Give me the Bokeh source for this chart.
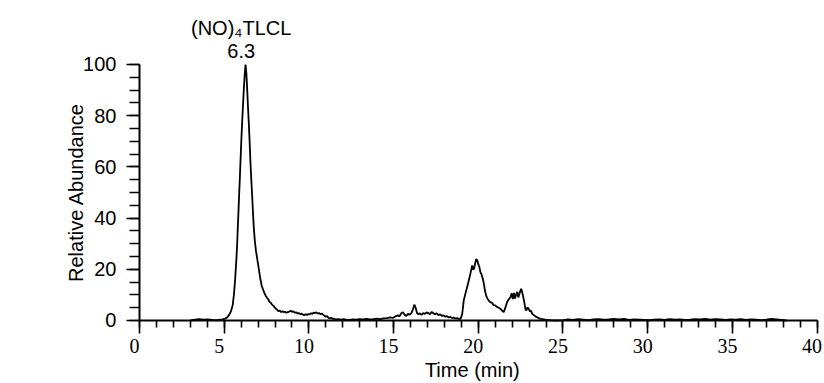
from bokeh.plotting import figure
from bokeh.models import (SingleIntervalTicker, Range1d, Label, LabelSet,
                          ColumnDataSource, CustomJSTickFormatter)
from bokeh.embed import file_html
from bokeh.resources import INLINE

# ---------------- data ----------------
time_min = [
    3.0, 3.2, 3.5, 3.8, 4.0, 4.3, 4.6, 4.9, 5.0, 5.1, 5.2, 5.3, 5.4, 5.5, 5.57,
    5.64, 5.71, 5.76, 5.80, 5.84, 5.88, 5.92, 5.96, 6.01, 6.06, 6.11, 6.16, 6.21,
    6.26, 6.31, 6.36, 6.40, 6.45, 6.50, 6.55, 6.60, 6.65, 6.70, 6.75, 6.81, 6.88,
    6.94, 7.00, 7.07, 7.14, 7.22, 7.30, 7.37, 7.44, 7.52, 7.60, 7.68, 7.75, 7.82,
    7.90, 7.98, 8.05, 8.13, 8.20, 8.28, 8.36, 8.44, 8.52, 8.60, 8.68, 8.76, 8.84,
    8.92, 9.00, 9.08, 9.16, 9.24, 9.32, 9.40, 9.48, 9.56, 9.64, 9.72, 9.80, 9.88,
    9.96, 10.04, 10.12, 10.20, 10.28, 10.36, 10.44, 10.52, 10.60, 10.68, 10.76,
    10.84, 10.92, 11.00, 11.08, 11.16, 11.24, 11.32, 11.40, 11.50, 11.60, 11.75,
    11.90, 12.05, 12.20, 12.40, 12.60, 12.80, 13.00, 13.20, 13.40, 13.60, 13.80,
    14.00, 14.20, 14.40, 14.60, 14.80, 14.95, 15.10, 15.25, 15.35, 15.45, 15.55,
    15.65, 15.75, 15.85, 15.95, 16.05, 16.15, 16.22, 16.30, 16.38, 16.46, 16.55,
    16.65, 16.75, 16.85, 16.95, 17.05, 17.15, 17.25, 17.35, 17.45, 17.55, 17.65,
    17.75, 17.85, 17.95, 18.05, 18.15, 18.25, 18.35, 18.45, 18.55, 18.65, 18.75,
    18.85, 18.95, 19.05, 19.14, 19.24, 19.34, 19.44, 19.54, 19.64, 19.70, 19.76,
    19.82, 19.88, 19.94, 20.00, 20.06, 20.12, 20.19, 20.26, 20.33, 20.40, 20.46,
    20.54, 20.62, 20.70, 20.80, 20.90, 21.00, 21.10, 21.20, 21.30, 21.40, 21.50,
    21.60, 21.70, 21.80, 21.90, 21.97, 22.04, 22.10, 22.16, 22.23, 22.30, 22.36,
    22.42, 22.48, 22.53, 22.60, 22.66, 22.72, 22.78, 22.84, 22.90, 22.98, 23.06,
    23.12, 23.18, 23.26, 23.34, 23.42, 23.50, 23.60, 23.70, 23.80, 23.95, 24.10,
    24.30, 24.60, 25.00, 25.30, 25.60, 25.90, 26.20, 26.50, 26.80, 27.10, 27.40,
    27.70, 28.00, 28.30, 28.60, 28.90, 29.20, 29.50, 29.80, 30.10, 30.40, 30.70,
    31.00, 31.30, 31.60, 31.90, 32.20, 32.50, 32.80, 33.10, 33.40, 33.70, 34.00,
    34.30, 34.60, 34.90, 35.20, 35.50, 35.80, 36.10, 36.40, 36.70, 37.00, 37.30,
    37.60, 37.90, 38.20,
]
rel_abundance = [
    0.0, 0.2, 0.5, 0.3, 0.4, 0.2, 0.1, 0.4, 0.6, 0.9, 1.4, 2.3, 3.6, 6.0, 9.8,
    15.5, 22.8, 29.0, 35.8, 42.0, 48.8, 55.0, 61.8, 70.0, 77.5, 84.0, 90.5, 96.0,
    100.0, 96.5, 90.0, 84.0, 77.5, 70.0, 61.8, 55.0, 48.8, 42.0, 36.0, 31.0, 27.0,
    24.5, 22.0, 19.0, 16.0, 13.5, 12.0, 10.8, 9.8, 9.0, 8.3, 7.2, 7.0, 6.2,
    5.8, 5.1, 4.6, 4.2, 3.6, 3.9, 3.3, 3.6, 3.2, 3.5, 3.0, 3.3, 3.5,
    3.8, 3.4, 3.6, 3.1, 3.2, 2.8, 2.9, 2.5, 2.7, 2.3, 2.1, 2.4, 2.2,
    2.5, 2.4, 2.8, 2.6, 3.1, 2.9, 3.2, 2.7, 2.9, 2.5, 2.7,
    2.3, 1.8, 1.5, 1.7, 1.0, 0.8, 1.1, 0.6, 0.7, 0.4, 0.5,
    0.3, 0.5, 0.3, 0.2, 0.4, 0.3, 0.5, 0.4, 0.6, 0.4, 0.5,
    0.7, 0.5, 0.8, 0.9, 1.2, 1.0, 1.6, 2.0, 1.6, 2.8, 3.2,
    2.2, 1.8, 2.6, 2.3, 2.9, 4.5, 6.2, 5.0, 3.0, 2.4, 2.8,
    2.2, 2.9, 2.6, 3.2, 2.9, 2.4, 3.4, 2.8, 2.5, 2.8, 2.1,
    2.4, 1.8, 2.0, 1.5, 1.7, 1.2, 1.4, 1.0, 1.1, 0.8, 0.9,
    0.6, 0.6, 2.5, 7.8, 10.5, 13.0, 15.6, 18.5, 21.5, 19.8, 20.5,
    22.5, 24.0, 23.5, 22.0, 21.0, 19.0, 18.0, 16.5, 14.3, 11.5, 9.8,
    8.5, 7.8, 7.2, 7.0, 6.0, 5.9, 5.3, 5.0, 4.6, 3.9, 3.3,
    5.0, 7.2, 8.3, 9.1, 10.6, 8.4, 10.8, 8.6, 10.0, 11.2, 9.0,
    10.2, 11.5, 12.4, 10.8, 9.0, 7.0, 4.5, 3.9, 5.2, 4.5, 3.5,
    3.8, 2.6, 2.2, 1.8, 1.4, 1.2, 0.8, 0.6, 0.5, 0.3, 0.2,
    0.1, 0.0, 0.1, 0.4, 0.2, 0.5, 0.3, 0.1, 0.4, 0.5, 0.3,
    0.4, 0.6, 0.4, 0.6, 0.2, 0.4, 0.3, 0.2, 0.1, 0.3, 0.4,
    0.2, 0.5, 0.3, 0.4, 0.2, 0.3, 0.5, 0.4, 0.6, 0.3, 0.5,
    0.4, 0.2, 0.4, 0.3, 0.5, 0.2, 0.4, 0.3, 0.1, 0.3, 0.6,
    0.4, 0.2, 0.0,
]
x_tick_values = [0, 5, 10, 15, 20, 25, 30, 35, 40]
x_tick_labels = ["0", "5", "10", "15", "20", "25", "30", "35", "40"]
peak_time = 6.3
peak_name = "(NO)\u2084TLCL"
peak_time_label = "6.3"
x_title = "Time (min)"
y_title = "Relative Abundance"

FONT = "Liberation Sans"
FS = "20px"

# The frame fills the whole canvas; both axes sit at data 0 (fixed_location)
# and are bounded to the data extent, so labels outside the axes stay visible.
p = figure(width=824, height=383, output_backend="svg", toolbar_location=None,
           x_range=Range1d(-8.205, 40.437), y_range=Range1d(-24.61, 125.0),
           min_border_left=0, min_border_right=0,
           min_border_top=0, min_border_bottom=0)
p.outline_line_color = None
p.xgrid.visible = False
p.ygrid.visible = False
p.background_fill_color = "white"
p.border_fill_color = "white"

# trace
p.line(time_min, rel_abundance, line_color="black", line_width=1.8)

# x axis
xa = p.xaxis[0]
xa.fixed_location = 0
xa.bounds = (0, 40)
xa.ticker = SingleIntervalTicker(interval=5, num_minor_ticks=5)
xa.formatter = CustomJSTickFormatter(code="return ''")
xa.axis_line_width = 2
xa.major_tick_line_width = 1.6
xa.minor_tick_line_width = 1.6
xa.major_tick_out = 13
xa.major_tick_in = 0
xa.minor_tick_out = 7
xa.minor_tick_in = 0

src = ColumnDataSource(data=dict(x=x_tick_values, y=[0] * len(x_tick_values),
                                 text=x_tick_labels))
p.add_layout(LabelSet(x="x", y="y", text="text", source=src,
                      text_align="center", text_baseline="alphabetic",
                      x_offset=-5, y_offset=-33,
                      text_font=FONT, text_font_size=FS, text_color="black"))

p.add_layout(Label(x=20, y=0, text=x_title, text_align="center",
                   text_baseline="alphabetic", x_offset=-6, y_offset=-50,
                   text_font=FONT, text_font_size=FS, text_color="black"))

# y axis
ya = p.yaxis[0]
ya.fixed_location = 0
ya.bounds = (0, 100)
ya.ticker = SingleIntervalTicker(interval=20, num_minor_ticks=4)
ya.axis_line_width = 2
ya.major_tick_line_width = 1.6
ya.minor_tick_line_width = 1.6
ya.major_tick_out = 13
ya.major_tick_in = 0
ya.minor_tick_out = 10
ya.minor_tick_in = 0
ya.major_label_standoff = 10
ya.major_label_text_font = FONT
ya.major_label_text_font_size = FS
ya.major_label_text_color = "black"
ya.axis_label = y_title
ya.axis_label_text_font = FONT
ya.axis_label_text_font_size = FS
ya.axis_label_text_font_style = "normal"
ya.axis_label_text_color = "black"
ya.axis_label_standoff = -7

# peak annotation
p.add_layout(Label(x=peak_time, y=100, text=peak_time_label, text_align="center",
                   text_baseline="alphabetic", x_offset=-5, y_offset=13,
                   text_font=FONT, text_font_size=FS, text_color="black"))
p.add_layout(Label(x=peak_time, y=100, text=peak_name, text_align="center",
                   text_baseline="alphabetic", x_offset=-5, y_offset=36,
                   text_font=FONT, text_font_size=FS, text_color="black"))

open("out.html", "w").write(file_html(p, INLINE))
